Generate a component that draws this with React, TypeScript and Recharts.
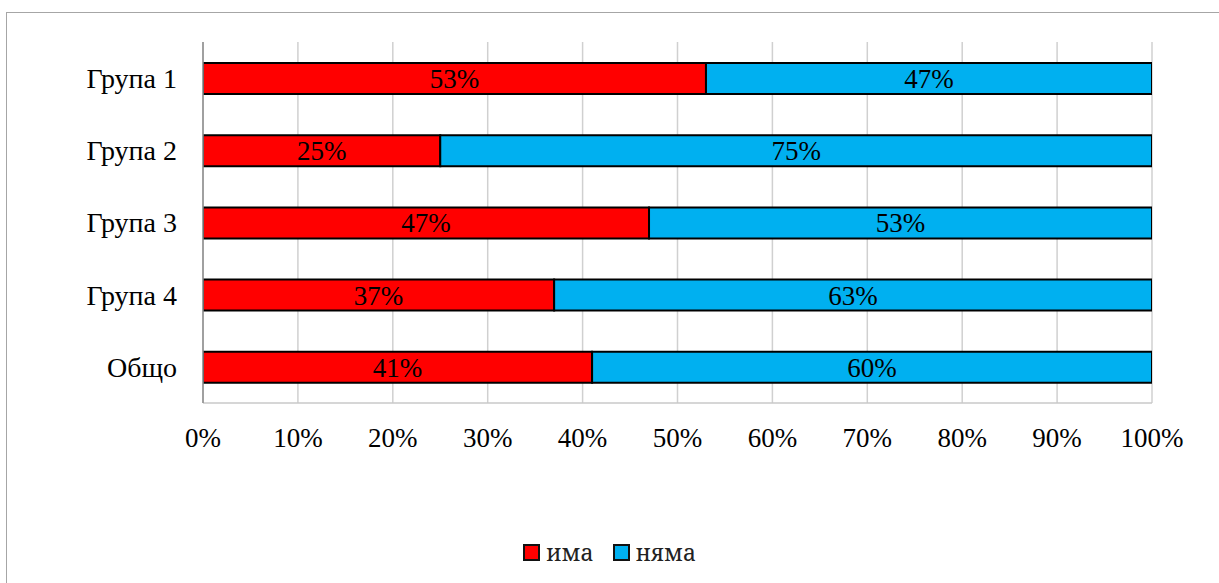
import { BarChart, Bar, XAxis, YAxis, CartesianGrid, LabelList } from "recharts"

const groups = ["Група 1", "Група 2", "Група 3", "Група 4", "Общо"]
const ima = [53, 25, 47, 37, 41]
const nyama = [47, 75, 53, 63, 60]
const percentTicks = [0, 10, 20, 30, 40, 50, 60, 70, 80, 90, 100]

const data = groups.map((g, i) => ({ group: g, ima: ima[i], nyama: nyama[i] }))

const font = "Liberation Serif"

function LegendBox() {
  const items = [
    { label: "има", color: "#ff0000" },
    { label: "няма", color: "#00b0f0" },
  ]
  return (
    <div style={{ position: "absolute", left: 0, top: 536, width: 1219, display: "flex", justifyContent: "center", gap: 19, fontFamily: "Noto Serif", fontSize: 23, color: "#222" }}>
      {items.map((it) => (
        <div key={it.label} style={{ display: "flex", alignItems: "center", gap: 6 }}>
          <span style={{ width: 13, height: 13, background: it.color, border: "2px solid #111", display: "inline-block" }} />
          <span>{it.label}</span>
        </div>
      ))}
    </div>
  )
}

export default function App() {
  return (
    <div style={{ position: "absolute", left: 0, top: 0, width: 1219, height: 583, background: "#fff", overflow: "hidden", fontFamily: font }}>
      <div style={{ position: "absolute", left: 6, top: 12, width: 1300, height: 700, border: "1px solid #a6a6a6" }} />
      <BarChart
        width={1219}
        height={583}
        data={data}
        layout="vertical"
        margin={{ top: 42, right: 67, bottom: 150, left: 0 }}
        barSize={31}
        style={{ position: "absolute", left: 0, top: 0, fontFamily: font }}
      >
        <CartesianGrid horizontal={false} stroke="#d0d0d0" strokeWidth={1.5} />
        <XAxis
          type="number"
          domain={[0, 100]}
          allowDataOverflow
          ticks={percentTicks}
          tickFormatter={(v) => `${v}%`}
          tickLine={false}
          axisLine={{ stroke: "#c8c8c8", strokeWidth: 1.5 }}
          tickMargin={19}
          height={30}
          tick={{ fill: "#000", fontSize: 27, fontFamily: font }}
          interval={0}
        />
        <YAxis
          type="category"
          dataKey="group"
          width={203}
          tickLine={false}
          axisLine={{ stroke: "#8c8c8c", strokeWidth: 1.5 }}
          tickMargin={20}
          tick={{ fill: "#000", fontSize: 28, fontFamily: font }}
        />
        <Bar dataKey="ima" name="има" stackId="a" fill="#ff0000" stroke="#000" strokeWidth={2} isAnimationActive={false}>
          <LabelList dataKey="ima" position="center" formatter={(v: number) => `${v}%`} fill="#000" fontSize={27} fontFamily={font} />
        </Bar>
        <Bar dataKey="nyama" name="няма" stackId="a" fill="#00b0f0" stroke="#000" strokeWidth={2} isAnimationActive={false}>
          <LabelList dataKey="nyama" position="center" formatter={(v: number) => `${v}%`} fill="#000" fontSize={27} fontFamily={font} />
        </Bar>
      </BarChart>
      <LegendBox />
    </div>
  )
}
